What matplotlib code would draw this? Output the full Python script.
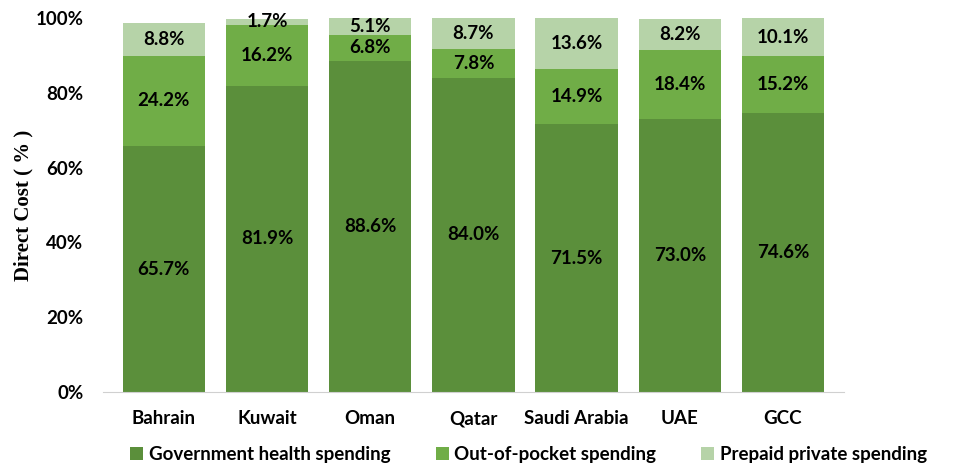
import numpy as np
import matplotlib.pyplot as plt

countries = ["Bahrain", "Kuwait", "Oman", "Qatar", "Saudi Arabia", "UAE", "GCC"]
government = [65.7, 81.9, 88.6, 84.0, 71.5, 73.0, 74.6]
out_of_pocket = [24.2, 16.2, 6.8, 7.8, 14.9, 18.4, 15.2]
prepaid = [8.8, 1.7, 5.1, 8.7, 13.6, 8.2, 10.1]

series = [
    ("Government health spending", government, "#5b8f3b"),
    ("Out-of-pocket spending", out_of_pocket, "#70ad47"),
    ("Prepaid private spending", prepaid, "#b6d3a8"),
]

plt.rcParams['font.family'] = ['Lato', 'DejaVu Sans']

fig = plt.figure(figsize=(9.56, 4.7), dpi=100)
ax = fig.add_axes([0.1077, 0.166, 0.775, 0.796])

x = np.arange(len(countries))
bottom = np.zeros(len(countries))
for name, vals, color in series:
    vals = np.array(vals)
    ax.bar(x, vals, 0.8, bottom=bottom, color=color, label=name, edgecolor="none")
    for xi, b, v in zip(x, bottom, vals):
        top = min(b + v, 100)
        ax.text(xi, (b + top) / 2, f"{v:.1f}%", ha="center", va="center",
                fontsize=13.5, fontweight="bold", color="black")
    bottom = bottom + vals

ax.set_xlim(-0.59, 6.59)
ax.set_ylim(0, 100)
ax.set_yticks(np.arange(0, 101, 20))
ax.set_yticklabels([f"{v}%" for v in range(0, 101, 20)], fontsize=13.5, fontweight="bold")
ax.set_xticks(x)
ax.set_xticklabels(countries, fontsize=13.5, fontweight="bold")
ax.tick_params(axis="x", length=0, pad=13)
ax.tick_params(axis="y", length=0, pad=14)
for s in ["top", "right", "left"]:
    ax.spines[s].set_visible(False)
ax.spines["bottom"].set_color("#d0d0d0")
ax.set_ylabel("Direct Cost ( % )", family="Liberation Serif", fontsize=15, fontweight="bold")
ax.yaxis.set_label_coords(-0.094, 0.5)

fig.legend(loc="lower center", bbox_to_anchor=(0.553, -0.022), ncol=3, frameon=False,
           prop={"size": 13.5, "weight": "bold"}, handlelength=0.7, handleheight=0.7,
           handletextpad=0.3, columnspacing=2.4)

fig.savefig("out.png", dpi=100)
